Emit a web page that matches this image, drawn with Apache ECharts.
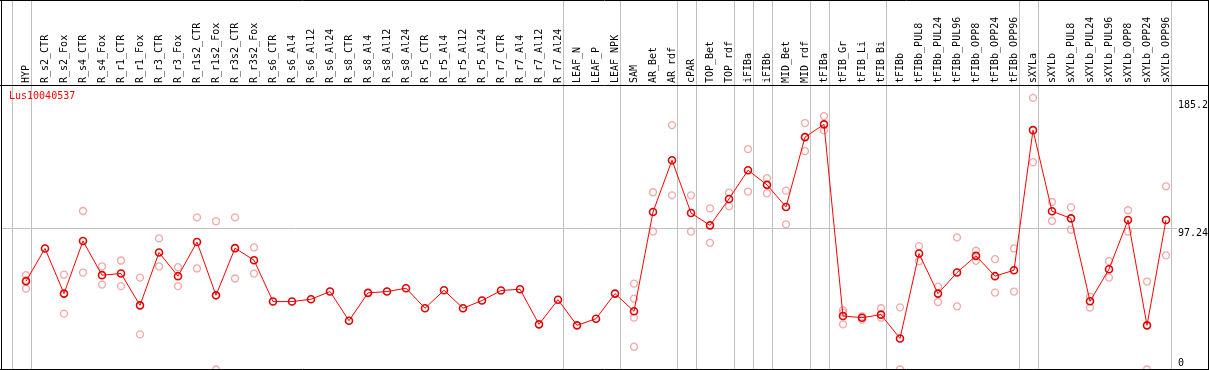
<!DOCTYPE html>
<html><head><meta charset="utf-8">
<script src="https://cdn.jsdelivr.net/npm/echarts@6/dist/echarts.min.js"></script>
<style>html,body{margin:0;padding:0;background:#fff}#c{width:1209px;height:370px}</style>
</head><body><div id="c"></div>
<script>
const categories = ["HYP","R_s2_CTR","R_s2_Fox","R_s4_CTR","R_s4_Fox","R_r1_CTR","R_r1_Fox","R_r3_CTR","R_r3_Fox","R_r1s2_CTR","R_r1s2_Fox","R_r3s2_CTR","R_r3s2_Fox","R_s6_CTR","R_s6_Al4","R_s6_Al12","R_s6_Al24","R_s8_CTR","R_s8_Al4","R_s8_Al12","R_s8_Al24","R_r5_CTR","R_r5_Al4","R_r5_Al12","R_r5_Al24","R_r7_CTR","R_r7_Al4","R_r7_Al12","R_r7_Al24","LEAF_N","LEAF_P","LEAF_NPK","SAM","AR_Bet","AR_rdf","cPAR","TOP_Bet","TOP_rdf","iFIBa","iFIBb","MID_Bet","MID_rdf","tFIBa","tFIB_Gr","tFIB_Li","tFIB_Bi","tFIBb","tFIBb_PUL8","tFIBb_PUL24","tFIBb_PUL96","tFIBb_OPP8","tFIBb_OPP24","tFIBb_OPP96","sXYLa","sXYLb","sXYLb_PUL8","sXYLb_PUL24","sXYLb_PUL96","sXYLb_OPP8","sXYLb_OPP24","sXYLb_OPP96"];
const means = [60.8,83.4,52.3,88.5,65.0,66.1,44.2,80.6,64.3,87.8,51.1,83.6,75.3,46.8,46.8,48.4,53.7,33.6,52.8,53.7,56.0,42.2,54.6,42.2,47.5,54.4,55.3,31.1,48.1,30.4,35.0,52.3,40.1,108.5,144.2,107.8,99.3,117.5,137.3,127.2,112.0,160.1,168.9,36.9,35.7,37.8,21.4,79.9,52.3,66.8,78.3,64.3,68.4,164.9,109.0,104.1,47.0,69.1,103.0,30.4,103.0];
const repHigh = [65.0,null,65.4,109.2,71.0,75.1,63.3,90.3,70.5,104.8,102.1,104.8,84.1,null,null,null,null,null,null,null,null,null,null,null,null,null,null,null,null,null,null,null,59.2,122.1,168.4,120.0,111.0,121.9,151.8,131.8,123.2,169.8,174.6,40.8,36.6,42.2,42.8,85.0,57.1,91.0,81.8,76.0,83.4,187.1,115.4,111.7,50.2,74.6,109.7,60.6,126.2];
const repLow = [55.7,null,38.5,66.8,58.5,57.4,24.2,71.0,57.4,69.6,0,62.7,66.1,null,null,null,null,null,null,null,null,null,null,null,null,null,null,null,null,null,null,null,15.7,95.1,120.0,95.1,87.3,112.4,122.6,121.4,100.0,150.4,164.7,31.1,34.3,35.7,0,74.6,46.5,43.5,74.9,53.0,53.7,142.8,102.3,96.3,42.6,63.3,95.1,0,78.6];
const repExtra = [61.5,null,null,null,null,null,null,null,null,null,null,null,null,null,null,null,null,null,null,null,null,null,null,null,null,null,null,null,null,null,null,null,48.8,null,null,null,null,null,null,null,null,null,null,39.2,null,null,null,null,null,null,null,null,null,null,null,null,null,null,null,null,null];
const repExtra2 = [null,null,null,null,null,null,null,null,null,null,null,null,null,null,null,null,null,null,null,null,null,null,null,null,null,null,null,null,null,null,null,null,35.7,null,null,null,null,null,null,null,null,null,null,null,null,null,null,null,null,null,null,null,null,null,null,null,null,null,null,null,null];
const yTickLabels = [185.2, 97.24, 0];
const refValue = 97.24;
const separatorsAfter = [-1,0,28,31,34,35,37,38,39,41,42,45,52,53,60];
const titleText = "Lus10040537";

const repPoints = [];
[repHigh, repLow, repExtra, repExtra2].forEach(arr => arr.forEach((v, i) => { if (v !== null) repPoints.push([i, v]); }));

const chart = echarts.init(document.getElementById('c'), null, {renderer: 'canvas'});
const mono = 'DejaVu Sans Mono';
chart.setOption({
  animation: false,
  grid: {left: 16.5, right: 33.5, top: 85, bottom: 0.5, containLabel: false},
  xAxis: {
    type: 'category', position: 'top', data: categories, boundaryGap: true,
    axisLine: {show: false}, axisTick: {show: false}, splitLine: {show: false},
    axisLabel: {rotate: 90, interval: 0, margin: 2, fontFamily: mono, fontSize: 10, color: '#000'}
  },
  yAxis: {type: 'value', min: 0, max: 196, show: false, splitLine: {show: false}},
  series: [
    {type: 'scatter', data: repPoints, symbol: 'circle', symbolSize: 7, z: 2,
     itemStyle: {color: 'rgba(0,0,0,0)', borderColor: '#ee9494', borderWidth: 1.3}},
    {type: 'line', data: means, symbol: 'circle', symbolSize: 7, z: 3, showAllSymbol: true,
     lineStyle: {color: '#ff0000', width: 1},
     itemStyle: {color: 'rgba(0,0,0,0)', borderColor: '#e00000', borderWidth: 1.6}}
  ]
});

const W = 1209, H = 370;
const px0 = chart.convertToPixel({xAxisIndex: 0}, 0);
const px1 = chart.convertToPixel({xAxisIndex: 0}, 1);
const step = px1 - px0;
const yRef = Math.round(chart.convertToPixel({yAxisIndex: 0}, refValue)) + 0.5;
const yBottom = chart.convertToPixel({yAxisIndex: 0}, 0);
const graphics = [];
const line = (x1, y1, x2, y2, stroke, z) => graphics.push({type: 'line', z: z || 10, silent: true,
  shape: {x1, y1, x2, y2}, style: {stroke, lineWidth: 1}});
separatorsAfter.forEach(i => {
  const x = Math.round(px0 + step * i + 4.5) + 0.5;
  line(x, 0, x, H, '#c0c0c0', 1);
});
line(1.5, yRef, 1177, yRef, '#c0c0c0', 1);
line(0, 0.5, W, 0.5, '#000');
line(0, 85.5, W, 85.5, '#000');
line(0, 369.5, W, 369.5, '#000');
line(1.5, 0, 1.5, H, '#000');
line(1208.5, 0, 1208.5, H, '#000');
yTickLabels.forEach(v => {
  let y = chart.convertToPixel({yAxisIndex: 0}, v);
  y = Math.min(y, yBottom - 11);
  graphics.push({type: 'text', z: 11, x: 1178, y: y,
    style: {text: String(v), font: '10px "' + mono + '"', fill: '#000', textVerticalAlign: 'top', verticalAlign: 'top'}});
});
graphics.push({type: 'text', z: 11, x: 9, y: 91,
  style: {text: titleText, font: '10px "' + mono + '"', fill: '#ff0000', verticalAlign: 'top'}});
chart.setOption({graphic: graphics});
</script></body></html>
